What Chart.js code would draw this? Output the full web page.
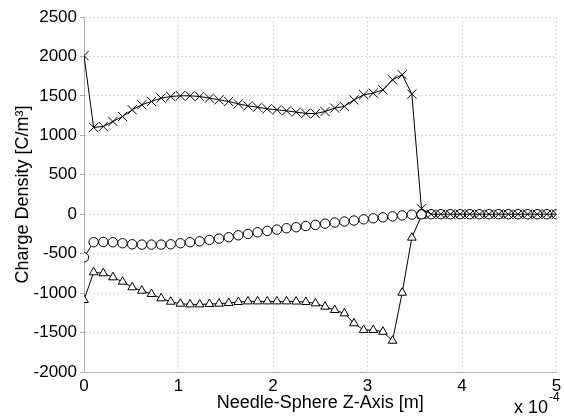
<!DOCTYPE html>
<html>
<head>
<meta charset="utf-8">
<script src="https://cdn.jsdelivr.net/npm/chart.js@4.4.0/dist/chart.umd.min.js"></script>
<style>
  html, body { margin: 0; padding: 0; background: #fff; }
  #wrap { width: 564px; height: 417px; }
</style>
</head>
<body>
<div id="wrap"><canvas id="chart" width="564" height="417"></canvas></div>
<script>
// z position along the needle-sphere axis, in units of 1e-4 m
const zAxis = [0, 0.102, 0.204, 0.306, 0.408, 0.510, 0.612, 0.714, 0.816, 0.918,
  1.020, 1.122, 1.224, 1.327, 1.429, 1.531, 1.633, 1.735, 1.837, 1.939,
  2.041, 2.143, 2.245, 2.347, 2.449, 2.551, 2.653, 2.755, 2.857, 2.959,
  3.061, 3.163, 3.265, 3.367, 3.469, 3.571, 3.673, 3.776, 3.878, 3.980,
  4.082, 4.184, 4.286, 4.388, 4.490, 4.592, 4.694, 4.796, 4.898, 5.000];

// charge density [C/m^3]
const crossSeries = [2010, 1100, 1112, 1175, 1239, 1324, 1387, 1429, 1472, 1492,
  1501, 1501, 1492, 1472, 1450, 1429, 1400, 1374, 1357, 1336,
  1324, 1311, 1294, 1278, 1275, 1302, 1345, 1366, 1450, 1514,
  1535, 1577, 1704, 1768, 1523, 70, 0, 0, 0, 0,
  0, 0, 0, 0, 0, 0, 0, 0, 0, 0];

const circleSeries = [-546, -355, -352, -355, -368, -381, -385, -385, -385, -381,
  -368, -355, -343, -326, -309, -292, -267, -250, -229, -212,
  -195, -178, -165, -150, -135, -120, -105, -93, -80, -65,
  -52, -40, -27, -15, -5, 0, 0, 0, 0, 0,
  0, 0, 0, 0, 0, 0, 0, 0, 0, 0];

const triangleSeries = [-1088, -736, -749, -800, -855, -926, -969, -1011, -1066, -1109,
  -1134, -1143, -1143, -1138, -1134, -1125, -1113, -1105, -1105, -1105,
  -1105, -1105, -1107, -1113, -1130, -1172, -1215, -1257, -1383, -1468,
  -1468, -1490, -1604, -995, -297, -20, 0, 0, 0, 0,
  0, 0, 0, 0, 0, 0, 0, 0, 0, 0];

const xTicks = [0, 1, 2, 3, 4, 5];
const yTicks = [-2000, -1500, -1000, -500, 0, 500, 1000, 1500, 2000, 2500];

const FONT = "'Liberation Sans', Arial, Helvetica, sans-serif";

function toPoints(ys) {
  return zAxis.map((z, i) => ({ x: z, y: ys[i] }));
}

function series(ys, style, radius, fill) {
  return {
    data: toPoints(ys),
    borderColor: '#000',
    borderWidth: 1,
    pointStyle: style,
    pointRadius: radius,
    pointHoverRadius: radius,
    pointBorderColor: '#000',
    pointBorderWidth: 1,
    pointBackgroundColor: fill,
    tension: 0,
    fill: false
  };
}

// "x 10^-4" multiplier under the right end of the x axis
const exponentLabel = {
  id: 'exponentLabel',
  afterDraw(chart) {
    const ctx = chart.ctx;
    ctx.save();
    ctx.fillStyle = '#000';
    ctx.textBaseline = 'alphabetic';
    ctx.textAlign = 'left';
    ctx.font = '18px ' + FONT;
    ctx.fillText('x 10', 514, 413);
    ctx.font = '12px ' + FONT;
    ctx.fillText('-4', 549, 401);
    ctx.restore();
  }
};

const gridColor = '#dadada';
const axisColor = '#b0b0b0';

new Chart(document.getElementById('chart'), {
  type: 'line',
  data: {
    datasets: [
      series(crossSeries, 'crossRot', 6.5, 'rgba(0,0,0,0)'),
      series(circleSeries, 'circle', 4.7, '#fff'),
      series(triangleSeries, 'triangle', 5, '#fff')
    ]
  },
  options: {
    responsive: false,
    animation: false,
    devicePixelRatio: 1,
    layout: { padding: { top: 17, right: 3, left: 0, bottom: 0 } },
    plugins: { legend: { display: false }, tooltip: { enabled: false } },
    scales: {
      x: {
        type: 'linear',
        min: 0,
        max: 5,
        afterBuildTicks(s) { s.ticks = xTicks.map(v => ({ value: v })); },
        ticks: { color: '#000', font: { family: FONT, size: 17 }, padding: 4, maxRotation: 0,
          callback: v => String(v) },
        grid: { color: gridColor, drawTicks: false },
        border: { display: true, color: axisColor, width: 1, dash: [2, 2] },
        title: {
          display: true,
          text: 'Needle-Sphere Z-Axis [m]',
          color: '#000',
          font: { family: FONT, size: 18 },
          padding: { top: 0, bottom: 3 }
        },
        afterFit(s) { s.height = 45; s.paddingLeft = 0; s.paddingRight = 0; }
      },
      y: {
        min: -2000,
        max: 2500,
        afterBuildTicks(s) { s.ticks = yTicks.map(v => ({ value: v })); },
        ticks: { color: '#000', font: { family: FONT, size: 17 }, padding: 3,
          callback: v => String(v) },
        grid: { color: gridColor, drawTicks: true, tickLength: 4, tickColor: axisColor },
        border: { display: true, color: axisColor, width: 1, dash: [2, 2] },
        title: {
          display: true,
          text: 'Charge Density [C/m³]',
          color: '#000',
          font: { family: FONT, size: 18 },
          padding: { top: 12, bottom: 0 }
        },
        afterFit(s) { s.width = 84; s.paddingTop = 0; s.paddingBottom = 0; }
      }
    }
  },
  plugins: [exponentLabel]
});
</script>
</body>
</html>
